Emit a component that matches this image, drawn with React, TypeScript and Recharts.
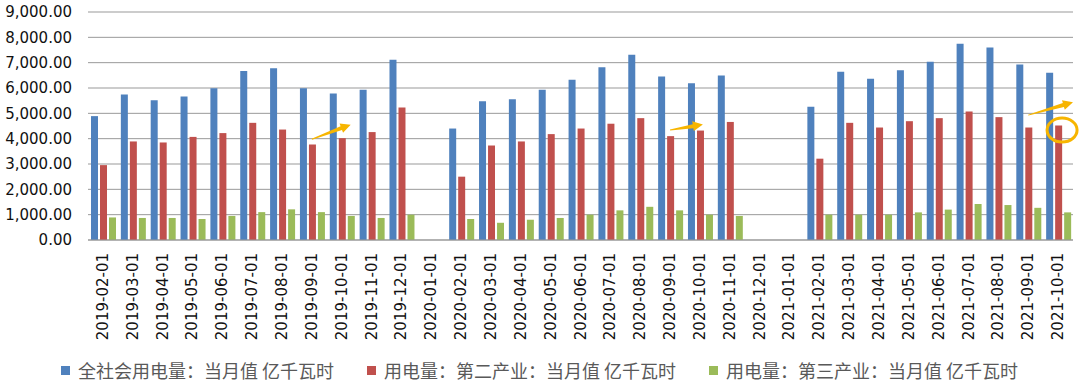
import React from 'react';
import {
  BarChart, Bar, XAxis, YAxis, CartesianGrid, Legend, ReferenceLine, ReferenceDot,
} from 'recharts';

const months = [
  '2019-02-01', '2019-03-01', '2019-04-01', '2019-05-01', '2019-06-01', '2019-07-01',
  '2019-08-01', '2019-09-01', '2019-10-01', '2019-11-01', '2019-12-01', '2020-01-01',
  '2020-02-01', '2020-03-01', '2020-04-01', '2020-05-01', '2020-06-01', '2020-07-01',
  '2020-08-01', '2020-09-01', '2020-10-01', '2020-11-01', '2020-12-01', '2021-01-01',
  '2021-02-01', '2021-03-01', '2021-04-01', '2021-05-01', '2021-06-01', '2021-07-01',
  '2021-08-01', '2021-09-01', '2021-10-01',
];

// 全社会用电量：当月值
const total = [
  4890, 5740, 5520, 5660, 5990, 6675, 6780, 5990, 5780, 5930, 7120, null,
  4400, 5480, 5560, 5930, 6330, 6820, 7310, 6450, 6190, 6490, null, null,
  5260, 6640, 6370, 6700, 7040, 7750, 7600, 6930, 6600,
];

// 第二产业
const secondary = [
  2956, 3890, 3850, 4070, 4220, 4625, 4360, 3770, 4020, 4260, 5230, null,
  2500, 3730, 3890, 4180, 4400, 4590, 4810, 4100, 4320, 4660, null, null,
  3210, 4625, 4440, 4690, 4810, 5070, 4850, 4440, 4520,
];

// 第三产业
const tertiary = [
  890, 870, 870, 830, 950, 1100, 1210, 1100, 950, 870, 1000, null,
  830, 680, 800, 870, 1000, 1170, 1310, 1170, 1000, 950, null, null,
  1000, 1000, 1000, 1090, 1200, 1420, 1380, 1270, 1090,
];

const yTicks = [0, 1000, 2000, 3000, 4000, 5000, 6000, 7000, 8000, 9000];

const seriesNames = [
  '全社会用电量：当月值 亿千瓦时',
  '用电量：第二产业：当月值 亿千瓦时',
  '用电量：第三产业：当月值 亿千瓦时',
];
const colors = ['#4F81BD', '#C0504D', '#9BBB59'];

// annotation arrows (data coords) + how far the arrow runs past the end category
const arrows = [
  { from: '2019-09-01', to: '2019-10-01', y1: 3980, y2: 4420, ext: 1.3 },
  { from: '2020-09-01', to: '2020-10-01', y1: 4340, y2: 4540, ext: 1.1 },
  { from: '2021-09-01', to: '2021-10-01', y1: 4930, y2: 5270, ext: 1.5 },
];

const data = months.map((m, i) => ({
  month: m,
  total: total[i],
  secondary: secondary[i],
  tertiary: tertiary[i],
}));

const ORANGE = '#F7B500';
const FONT = '"DejaVu Sans", sans-serif';

const fmt = (v: number) =>
  v.toLocaleString('en-US', { minimumFractionDigits: 2, maximumFractionDigits: 2 });

const XTick = ({ x, y, payload }: any) => (
  <text
    x={x}
    y={y}
    transform={`rotate(-90, ${x}, ${y})`}
    textAnchor="end"
    dominantBaseline="central"
    fontFamily={FONT}
    fontSize={15}
    fill="#111"
  >
    {payload.value}
  </text>
);

const ArrowShape = (ext: number) => (props: any) => {
  const { x1, y1, x2, y2 } = props;
  if (x1 == null) return null;
  const ex = x1 + (x2 - x1) * ext;
  const ey = y1 + (y2 - y1) * ext;
  const dx = ex - x1;
  const dy = ey - y1;
  const len = Math.sqrt(dx * dx + dy * dy);
  const ux = dx / len, uy = dy / len;
  const nx = -uy, ny = ux;
  const head = 10;
  const bx = ex - ux * head, by = ey - uy * head;
  const pts = [
    [x1 + nx * 0.5, y1 + ny * 0.5],
    [bx + nx * 2, by + ny * 2],
    [bx + nx * 5, by + ny * 5],
    [ex, ey],
    [bx - nx * 5, by - ny * 5],
    [bx - nx * 2, by - ny * 2],
    [x1 - nx * 0.5, y1 - ny * 0.5],
  ].map(p => p.join(',')).join(' ');
  return <polygon points={pts} fill={ORANGE} />;
};

const Ring = ({ cx, cy }: any) => (
  <ellipse cx={cx + 4} cy={cy} rx={15} ry={12} fill="none" stroke={ORANGE} strokeWidth={3} />
);

const LegendContent = () => (
  <div style={{ display: 'flex', justifyContent: 'center', gap: 33, paddingTop: 6, paddingLeft: 6 }}>
    {seriesNames.map((n, i) => (
      <div key={n} style={{ display: 'flex', alignItems: 'center', gap: 8 }}>
        <div style={{ width: 9, height: 9, background: colors[i] }} />
        <span style={{ fontFamily: '"Noto Sans CJK SC", sans-serif', fontSize: 18, color: '#595959', lineHeight: '20px' }}>
          {n}
        </span>
      </div>
    ))}
  </div>
);

export default function App() {
  return (
    <div style={{ position: 'absolute', left: 0, top: 0, width: 1080, height: 384, background: '#fff' }}>
      <BarChart
        width={1080}
        height={384}
        data={data}
        margin={{ top: 12, right: 7, left: 0, bottom: 0 }}
        barCategoryGap={3}
        barGap={2}
      >
        <CartesianGrid vertical={false} stroke="#999" />
        <XAxis
          dataKey="month"
          interval={0}
          height={114}
          tickLine={false}
          tickSize={0}
          tickMargin={13}
          axisLine={{ stroke: '#999' }}
          tick={<XTick />}
        />
        <YAxis
          domain={[0, 9000]}
          ticks={yTicks}
          width={88}
          axisLine={false}
          tickLine={false}
          tickSize={0}
          tickMargin={16}
          tickFormatter={fmt}
          tick={{ fontFamily: FONT, fontSize: 15, fill: '#111' }}
        />
        <Legend verticalAlign="bottom" wrapperStyle={{ height: 30 }} content={<LegendContent />} />
        <Bar dataKey="total" name={seriesNames[0]} fill={colors[0]} isAnimationActive={false} />
        <Bar dataKey="secondary" name={seriesNames[1]} fill={colors[1]} isAnimationActive={false} />
        <Bar dataKey="tertiary" name={seriesNames[2]} fill={colors[2]} isAnimationActive={false} />
        {arrows.map((a, i) => (
          <ReferenceLine
            key={i}
            segment={[{ x: a.from, y: a.y1 }, { x: a.to, y: a.y2 }]}
            ifOverflow="visible"
            shape={ArrowShape(a.ext)}
          />
        ))}
        <ReferenceDot x="2021-10-01" y={4340} ifOverflow="visible" shape={<Ring />} />
      </BarChart>
    </div>
  );
}
